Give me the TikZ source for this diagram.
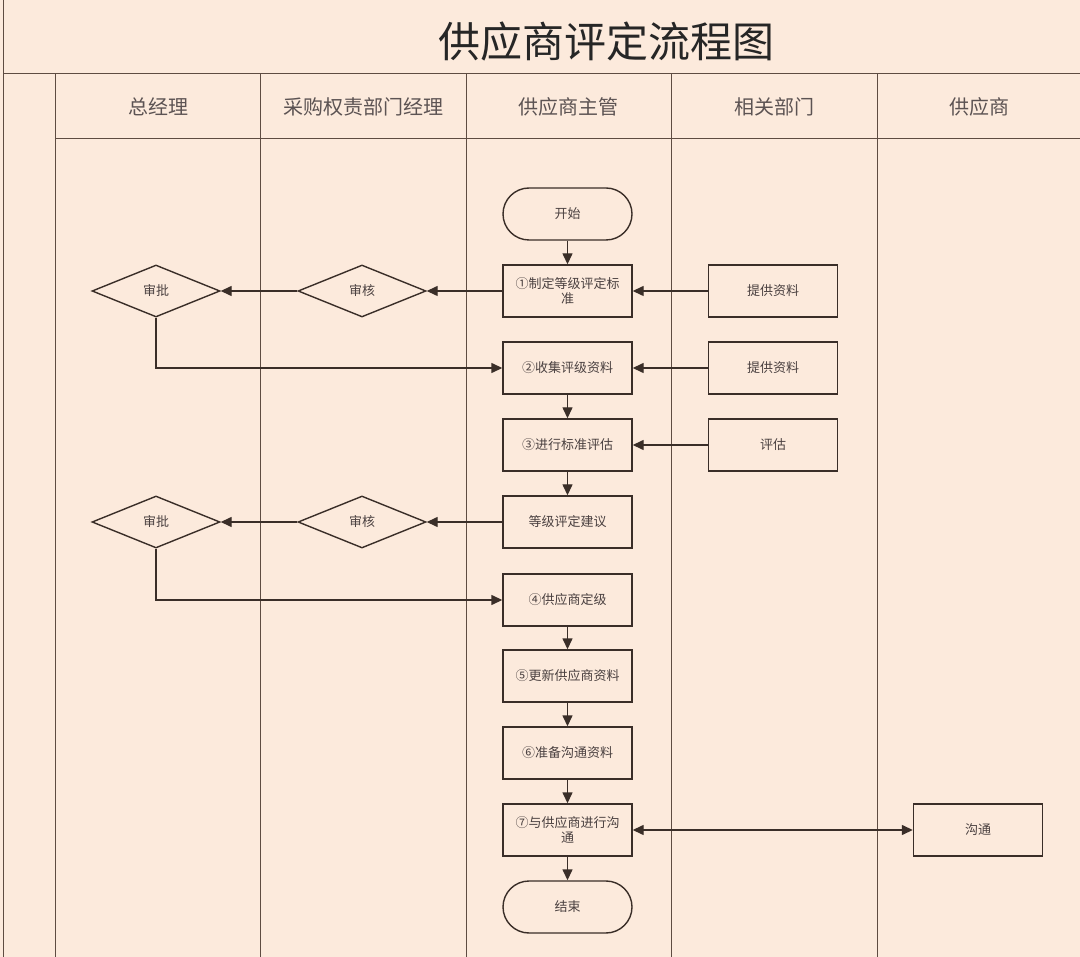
\documentclass[tikz,border=0pt]{standalone}
\usepackage{fontspec}
\setmainfont{Noto Sans CJK SC}
\usetikzlibrary{shapes.geometric,arrows.meta}
\definecolor{bg}{HTML}{FCEADC}
\definecolor{lane}{HTML}{5E4C42}
\definecolor{boxline}{HTML}{3A2E28}
\definecolor{txt}{HTML}{4A4040}
\tikzset{
  every node/.style={font=\fontsize{13}{15}\selectfont, text=txt},
  proc/.style={draw=boxline, line width=1.4pt, line join=miter, rectangle, minimum width=129pt, minimum height=52pt, inner sep=2pt, align=center, text width=122pt},
  term/.style={draw=boxline, line width=1.4pt, rectangle, rounded corners=26pt, minimum width=129pt, minimum height=52pt, align=center},
  dec/.style={draw=boxline, line width=1.4pt, diamond, minimum width=128pt, minimum height=52pt, inner sep=0pt},
  arr/.style={draw=boxline, line width=1.4pt, -{Triangle[length=11pt,width=10pt]}},
  darr/.style={draw=boxline, line width=1.4pt, {Triangle[length=11pt,width=10pt]}-{Triangle[length=11pt,width=10pt]}},
  lanel/.style={draw=lane, line width=1pt},
  hdr/.style={font=\fontsize{20}{22}\selectfont, text=txt!90},
}
\begin{document}
\begin{tikzpicture}[x=1pt,y=-1pt]
\fill[bg] (0,0) rectangle (1080,957);
\useasboundingbox (0,0) rectangle (1080,957);
% frame
\draw[lanel] (3,0) -- (3,957);
\draw[lanel] (3,74) -- (1080,74);
\draw[lanel] (55,139) -- (1080,139);
\foreach \x in {55,260,466,671,877} \draw[lanel] (\x,74) -- (\x,957);
% title
\node[font=\fontsize{42}{46}\selectfont, text=black!85] (title) at (606,42) {供应商评定流程图};
% headers
\node[hdr] (h1) at (158,107) {总经理};
\node[hdr] (h2) at (363,107) {采购权责部门经理};
\node[hdr] (h3) at (568,107) {供应商主管};
\node[hdr] (h4) at (774,107) {相关部门};
\node[hdr] (h5) at (979,107) {供应商};
% nodes
\node[term] (start) at (567.5,214) {开始};
\node[proc] (s1) at (567.5,291) {①制定等级评定标\\准};
\node[proc] (p1) at (773,291) {提供资料};
\node[dec] (r1) at (362,291) {审核};
\node[dec] (a1) at (156,291) {审批};
\node[proc] (s2) at (567.5,368) {②收集评级资料};
\node[proc] (p2) at (773,368) {提供资料};
\node[proc] (s3) at (567.5,445) {③进行标准评估};
\node[proc] (p3) at (773,445) {评估};
\node[proc] (sg) at (567.5,522) {等级评定建议};
\node[dec] (r2) at (362,522) {审核};
\node[dec] (a2) at (156,522) {审批};
\node[proc] (s4) at (567.5,600) {④供应商定级};
\node[proc] (s5) at (567.5,676) {⑤更新供应商资料};
\node[proc] (s6) at (567.5,753) {⑥准备沟通资料};
\node[proc] (s7) at (567.5,830) {⑦与供应商进行沟\\通};
\node[proc] (sup) at (978,830) {沟通};
\node[term] (end) at (567.5,907) {结束};
% connectors
\draw[arr] (start) -- (s1);
\draw[arr] (s1) -- (r1);
\draw[arr] (r1) -- (a1);
\draw[arr] (p1) -- (s1);
\draw[arr] (a1.south) |- (s2.west);
\draw[arr] (p2) -- (s2);
\draw[arr] (s2) -- (s3);
\draw[arr] (p3) -- (s3);
\draw[arr] (s3) -- (sg);
\draw[arr] (sg) -- (r2);
\draw[arr] (r2) -- (a2);
\draw[arr] (a2.south) |- (s4.west);
\draw[arr] (s4) -- (s5);
\draw[arr] (s5) -- (s6);
\draw[arr] (s6) -- (s7);
\draw[darr] (s7) -- (sup);
\draw[arr] (s7) -- (end);
\end{tikzpicture}
\end{document}
